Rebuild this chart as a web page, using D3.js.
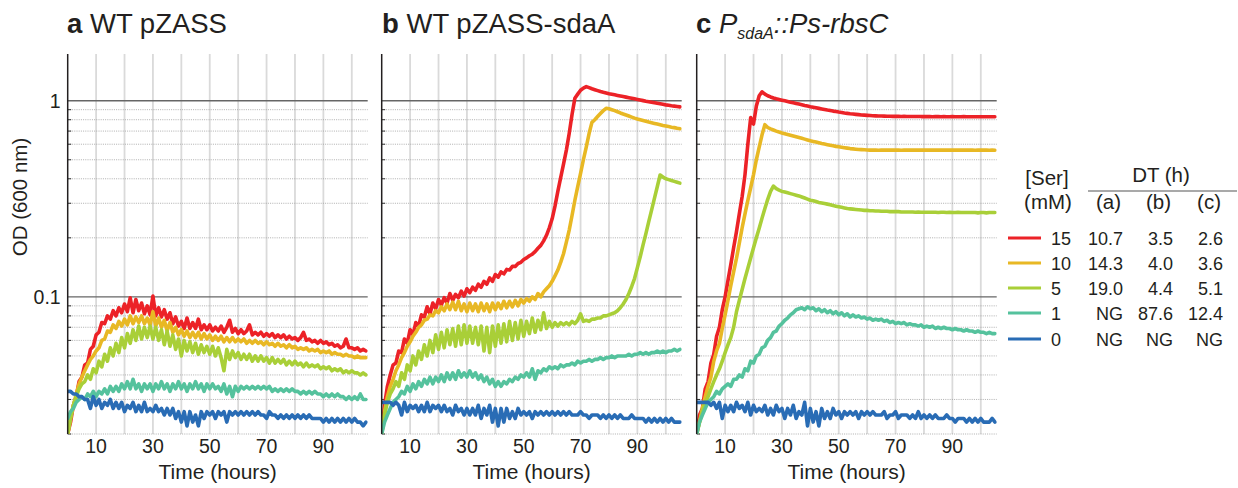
<!DOCTYPE html>
<html><head><meta charset="utf-8">
<script src="https://cdn.jsdelivr.net/npm/d3@7"></script>
<style>body{margin:0;background:#fff;} svg{display:block;} text{font-family:"Liberation Sans",Arial,sans-serif;fill:#231f20;}</style>
</head><body>
<svg id="chart" width="1238" height="488"></svg>
<script>
// ---------------- DATA ----------------
const hours = [0,1,2,3,4,5,6,7,8,9,10,11,12,13,14,15,16,17,18,19,20,21,22,23,24,25,26,27,28,29,30,31,32,33,34,35,36,37,38,39,40,41,42,43,44,45,46,47,48,49,50,51,52,53,54,55,56,57,58,59,60,61,62,63,64,65,66,67,68,69,70,71,72,73,74,75,76,77,78,79,80,81,82,83,84,85,86,87,88,89,90,91,92,93,94,95,96,97,98,99,100,101,102,103,104,105];
const serLevels = ["15","10","5","1","0"];
const seriesColors = ["#ec2227","#e8b824","#a9cf38","#55c29d","#296cb5"];

// panel a: WT pZASS
const a15 = [0.020,0.023,0.028,0.031,0.037,0.039,0.045,0.046,0.054,0.056,
0.064,0.066,0.074,0.073,0.080,0.077,0.085,0.080,0.088,0.083,
0.092,0.084,0.099,0.083,0.097,0.085,0.093,0.082,0.090,0.081,
0.101,0.080,0.088,0.079,0.086,0.077,0.083,0.073,0.079,0.071,
0.075,0.069,0.078,0.069,0.074,0.069,0.077,0.068,0.072,0.068,
0.072,0.067,0.070,0.067,0.071,0.066,0.070,0.076,0.066,0.069,
0.065,0.068,0.065,0.067,0.072,0.064,0.066,0.064,0.066,0.063,
0.065,0.063,0.065,0.062,0.064,0.062,0.064,0.061,0.063,0.061,
0.062,0.060,0.062,0.066,0.060,0.061,0.059,0.060,0.058,0.060,
0.058,0.059,0.057,0.058,0.056,0.057,0.055,0.056,0.061,0.055,
0.055,0.054,0.055,0.053,0.054,0.053];
const a10 = [0.020,0.024,0.028,0.032,0.036,0.039,0.042,0.045,0.048,0.050,
0.053,0.055,0.060,0.061,0.067,0.066,0.072,0.069,0.075,0.071,
0.077,0.072,0.080,0.073,0.079,0.074,0.080,0.073,0.078,0.072,
0.084,0.071,0.078,0.070,0.076,0.067,0.074,0.066,0.070,0.064,
0.068,0.063,0.067,0.062,0.066,0.062,0.066,0.061,0.065,0.061,
0.064,0.060,0.063,0.060,0.063,0.059,0.062,0.059,0.062,0.059,
0.061,0.059,0.061,0.058,0.060,0.058,0.060,0.058,0.059,0.057,
0.059,0.057,0.058,0.056,0.058,0.056,0.057,0.055,0.057,0.055,
0.056,0.054,0.055,0.054,0.055,0.053,0.054,0.053,0.054,0.052,
0.053,0.052,0.053,0.051,0.052,0.051,0.051,0.050,0.051,0.050,
0.050,0.049,0.050,0.049,0.049,0.049];
const a5 = [0.020,0.024,0.028,0.031,0.034,0.036,0.037,0.040,0.038,0.043,
0.041,0.047,0.044,0.051,0.047,0.055,0.050,0.058,0.052,0.062,
0.055,0.065,0.058,0.068,0.060,0.071,0.061,0.070,0.062,0.071,
0.061,0.070,0.060,0.068,0.057,0.067,0.056,0.064,0.054,0.061,
0.050,0.060,0.053,0.059,0.052,0.058,0.051,0.057,0.052,0.056,
0.051,0.056,0.050,0.055,0.049,0.042,0.054,0.048,0.053,0.049,
0.052,0.048,0.051,0.048,0.051,0.047,0.050,0.047,0.050,0.047,
0.049,0.046,0.049,0.046,0.048,0.046,0.048,0.045,0.047,0.045,
0.047,0.045,0.046,0.044,0.046,0.044,0.045,0.044,0.045,0.043,
0.044,0.043,0.044,0.042,0.043,0.042,0.043,0.041,0.042,0.041,
0.042,0.041,0.041,0.040,0.041,0.040];
const a1 = [0.024,0.026,0.027,0.029,0.030,0.031,0.030,0.032,0.031,0.033,
0.031,0.033,0.032,0.034,0.032,0.035,0.033,0.035,0.033,0.036,
0.034,0.037,0.034,0.038,0.034,0.036,0.033,0.036,0.034,0.036,
0.033,0.036,0.034,0.037,0.034,0.036,0.033,0.036,0.034,0.037,
0.034,0.036,0.033,0.036,0.034,0.037,0.034,0.036,0.033,0.036,
0.034,0.036,0.034,0.035,0.033,0.036,0.032,0.035,0.031,0.035,
0.033,0.035,0.034,0.035,0.034,0.035,0.034,0.035,0.034,0.035,
0.034,0.035,0.033,0.034,0.033,0.034,0.033,0.034,0.033,0.034,
0.033,0.033,0.032,0.033,0.032,0.033,0.032,0.033,0.032,0.032,
0.031,0.032,0.031,0.032,0.031,0.032,0.031,0.031,0.030,0.031,
0.030,0.031,0.030,0.032,0.030,0.030];
const a0 = [0.033,0.033,0.032,0.032,0.031,0.031,0.030,0.030,0.027,0.031,
0.028,0.030,0.027,0.029,0.028,0.030,0.027,0.029,0.027,0.029,
0.026,0.028,0.027,0.029,0.026,0.028,0.026,0.029,0.026,0.027,
0.026,0.028,0.026,0.027,0.025,0.027,0.025,0.027,0.024,0.026,
0.023,0.026,0.022,0.026,0.023,0.025,0.022,0.026,0.024,0.026,
0.025,0.026,0.024,0.026,0.025,0.026,0.023,0.026,0.025,0.026,
0.025,0.026,0.025,0.026,0.025,0.026,0.025,0.026,0.025,0.025,
0.024,0.026,0.025,0.025,0.024,0.025,0.024,0.025,0.024,0.025,
0.024,0.025,0.024,0.025,0.024,0.025,0.024,0.024,0.024,0.024,
0.023,0.024,0.023,0.024,0.023,0.024,0.023,0.024,0.023,0.024,
0.023,0.024,0.023,0.023,0.022,0.023];

// panel b: WT pZASS-sdaA
const b15 = [0.020,0.028,0.035,0.040,0.045,0.046,0.053,0.052,0.061,0.058,
0.068,0.064,0.074,0.071,0.081,0.079,0.089,0.082,0.093,0.087,
0.097,0.091,0.099,0.093,0.104,0.096,0.103,0.099,0.107,0.101,
0.110,0.105,0.112,0.108,0.116,0.112,0.120,0.116,0.125,0.120,
0.130,0.126,0.134,0.131,0.138,0.137,0.143,0.143,0.148,0.150,
0.155,0.158,0.162,0.165,0.170,0.177,0.183,0.193,0.206,0.225,
0.250,0.290,0.345,0.405,0.475,0.560,0.680,0.850,1.030,1.080,
1.130,1.160,1.180,1.165,1.150,1.138,1.125,1.113,1.103,1.094,
1.085,1.078,1.071,1.064,1.057,1.050,1.043,1.036,1.029,1.022,
1.015,1.008,1.001,0.994,0.988,0.982,0.976,0.970,0.964,0.958,
0.952,0.947,0.942,0.938,0.934,0.930];
const b10 = [0.020,0.026,0.031,0.035,0.038,0.042,0.045,0.049,0.052,0.056,
0.059,0.063,0.066,0.070,0.072,0.076,0.077,0.081,0.080,0.085,
0.083,0.089,0.085,0.092,0.086,0.094,0.086,0.095,0.085,0.092,
0.084,0.093,0.085,0.092,0.084,0.093,0.085,0.092,0.084,0.093,
0.086,0.093,0.087,0.095,0.088,0.095,0.089,0.096,0.090,0.097,
0.093,0.098,0.095,0.100,0.097,0.104,0.100,0.106,0.110,0.114,
0.120,0.128,0.137,0.150,0.166,0.190,0.219,0.260,0.311,0.365,
0.426,0.500,0.580,0.680,0.775,0.800,0.830,0.860,0.890,0.915,
0.910,0.900,0.890,0.878,0.866,0.855,0.845,0.835,0.825,0.815,
0.806,0.799,0.792,0.785,0.778,0.772,0.766,0.760,0.754,0.748,
0.743,0.738,0.733,0.729,0.724,0.720];
const b5 = [0.020,0.025,0.029,0.032,0.034,0.037,0.035,0.041,0.038,0.045,
0.042,0.050,0.045,0.053,0.048,0.057,0.050,0.060,0.052,0.064,
0.054,0.066,0.055,0.068,0.057,0.069,0.056,0.071,0.057,0.072,
0.058,0.071,0.058,0.070,0.057,0.071,0.053,0.070,0.052,0.071,
0.056,0.072,0.058,0.073,0.059,0.075,0.060,0.074,0.061,0.076,
0.063,0.075,0.065,0.078,0.066,0.076,0.068,0.083,0.069,0.075,
0.070,0.074,0.071,0.074,0.072,0.074,0.072,0.075,0.073,0.076,
0.082,0.075,0.076,0.075,0.077,0.077,0.078,0.078,0.080,0.080,
0.081,0.082,0.083,0.085,0.088,0.092,0.097,0.104,0.113,0.124,
0.141,0.160,0.184,0.210,0.242,0.277,0.318,0.364,0.418,0.408,
0.400,0.396,0.392,0.388,0.384,0.380];
const b1 = [0.020,0.023,0.025,0.027,0.029,0.030,0.031,0.033,0.032,0.035,
0.033,0.036,0.034,0.037,0.035,0.038,0.036,0.039,0.036,0.039,
0.037,0.040,0.037,0.041,0.038,0.041,0.038,0.042,0.039,0.041,
0.039,0.042,0.039,0.041,0.038,0.040,0.037,0.039,0.036,0.038,
0.035,0.037,0.035,0.037,0.036,0.038,0.037,0.039,0.038,0.040,
0.039,0.041,0.039,0.043,0.038,0.042,0.041,0.043,0.042,0.044,
0.043,0.044,0.043,0.045,0.044,0.045,0.045,0.046,0.045,0.047,
0.046,0.047,0.047,0.048,0.047,0.048,0.048,0.049,0.048,0.049,
0.049,0.050,0.049,0.050,0.050,0.050,0.050,0.051,0.050,0.051,
0.051,0.052,0.051,0.052,0.051,0.052,0.052,0.053,0.052,0.053,
0.052,0.053,0.053,0.054,0.053,0.054];
const b0 = [0.029,0.029,0.029,0.029,0.028,0.029,0.028,0.025,0.029,0.026,
0.028,0.027,0.028,0.026,0.028,0.026,0.029,0.026,0.028,0.027,
0.028,0.026,0.028,0.026,0.027,0.025,0.028,0.026,0.027,0.025,
0.027,0.025,0.027,0.025,0.028,0.024,0.027,0.025,0.028,0.023,
0.027,0.022,0.027,0.023,0.027,0.024,0.026,0.024,0.027,0.025,
0.026,0.025,0.026,0.024,0.026,0.025,0.026,0.025,0.026,0.025,
0.026,0.025,0.026,0.025,0.026,0.025,0.026,0.025,0.025,0.025,
0.026,0.025,0.025,0.024,0.025,0.025,0.025,0.024,0.025,0.024,
0.025,0.024,0.025,0.024,0.025,0.024,0.024,0.024,0.025,0.024,
0.024,0.024,0.024,0.023,0.024,0.023,0.024,0.023,0.024,0.023,
0.024,0.023,0.024,0.023,0.023,0.023];

// panel c: PsdaA::Ps-rbsC
const c15 = [0.020,0.025,0.027,0.034,0.037,0.046,0.051,0.063,0.070,0.086,
0.100,0.121,0.146,0.178,0.215,0.265,0.325,0.420,0.600,0.820,
0.760,0.940,1.060,1.110,1.080,1.060,1.045,1.032,1.022,1.014,
1.006,0.998,0.990,0.982,0.975,0.968,0.961,0.954,0.946,0.939,
0.932,0.926,0.920,0.914,0.908,0.902,0.896,0.891,0.885,0.880,
0.875,0.871,0.866,0.862,0.858,0.855,0.852,0.849,0.846,0.844,
0.842,0.840,0.838,0.837,0.836,0.835,0.834,0.833,0.833,0.832,
0.832,0.832,0.831,0.832,0.831,0.831,0.831,0.830,0.831,0.830,
0.830,0.830,0.830,0.829,0.830,0.830,0.829,0.830,0.829,0.829,
0.830,0.829,0.829,0.829,0.830,0.829,0.829,0.828,0.829,0.829,
0.829,0.828,0.829,0.829,0.828,0.828];
const c10 = [0.020,0.023,0.027,0.031,0.035,0.039,0.047,0.053,0.058,0.069,
0.081,0.096,0.114,0.134,0.157,0.188,0.225,0.265,0.310,0.360,
0.420,0.500,0.580,0.670,0.755,0.730,0.718,0.709,0.700,0.692,
0.685,0.679,0.673,0.667,0.661,0.655,0.649,0.643,0.637,0.631,
0.625,0.620,0.615,0.610,0.605,0.601,0.597,0.593,0.589,0.585,
0.582,0.579,0.576,0.573,0.570,0.568,0.566,0.564,0.563,0.562,
0.561,0.560,0.560,0.560,0.559,0.560,0.560,0.560,0.561,0.560,
0.560,0.560,0.559,0.560,0.560,0.561,0.560,0.560,0.560,0.560,
0.560,0.561,0.560,0.560,0.560,0.560,0.561,0.560,0.560,0.560,
0.560,0.560,0.561,0.560,0.560,0.560,0.560,0.560,0.559,0.560,
0.560,0.560,0.560,0.559,0.560,0.559];
const c5 = [0.020,0.023,0.026,0.029,0.031,0.034,0.037,0.040,0.043,0.047,
0.052,0.057,0.062,0.070,0.084,0.096,0.109,0.124,0.140,0.158,
0.178,0.200,0.224,0.252,0.282,0.314,0.345,0.367,0.356,0.350,
0.345,0.342,0.339,0.336,0.333,0.330,0.327,0.323,0.319,0.315,
0.311,0.309,0.306,0.303,0.301,0.299,0.297,0.295,0.292,0.290,
0.288,0.286,0.284,0.282,0.281,0.280,0.279,0.278,0.277,0.276,
0.276,0.275,0.275,0.274,0.274,0.273,0.273,0.273,0.272,0.272,
0.272,0.272,0.271,0.271,0.271,0.271,0.271,0.270,0.271,0.270,
0.270,0.270,0.270,0.270,0.270,0.269,0.270,0.270,0.269,0.270,
0.269,0.269,0.270,0.269,0.269,0.269,0.269,0.269,0.269,0.268,
0.269,0.269,0.268,0.269,0.269,0.269];
const c1 = [0.020,0.023,0.025,0.027,0.029,0.030,0.031,0.033,0.032,0.034,
0.035,0.036,0.035,0.038,0.038,0.040,0.039,0.043,0.042,0.047,
0.046,0.050,0.051,0.055,0.056,0.060,0.062,0.066,0.067,0.071,
0.073,0.076,0.078,0.081,0.083,0.086,0.087,0.088,0.086,0.089,
0.087,0.088,0.085,0.087,0.084,0.086,0.083,0.085,0.082,0.084,
0.081,0.083,0.080,0.082,0.079,0.081,0.079,0.080,0.078,0.079,
0.077,0.078,0.076,0.077,0.076,0.077,0.075,0.076,0.074,0.075,
0.073,0.074,0.073,0.074,0.072,0.073,0.072,0.072,0.071,0.072,
0.070,0.071,0.070,0.071,0.069,0.070,0.069,0.070,0.069,0.069,
0.068,0.069,0.068,0.068,0.067,0.068,0.067,0.067,0.066,0.067,
0.066,0.066,0.065,0.066,0.065,0.065];
const c0 = [0.029,0.029,0.029,0.029,0.029,0.028,0.029,0.027,0.029,0.024,
0.028,0.026,0.028,0.026,0.029,0.027,0.028,0.026,0.029,0.025,
0.028,0.026,0.027,0.026,0.028,0.025,0.027,0.025,0.028,0.026,
0.027,0.024,0.027,0.025,0.028,0.024,0.026,0.025,0.029,0.022,
0.027,0.023,0.026,0.022,0.027,0.024,0.026,0.024,0.027,0.025,
0.026,0.024,0.026,0.025,0.026,0.025,0.026,0.024,0.026,0.025,
0.026,0.025,0.026,0.025,0.025,0.025,0.026,0.024,0.025,0.025,
0.026,0.024,0.025,0.025,0.025,0.024,0.025,0.024,0.026,0.024,
0.025,0.024,0.025,0.024,0.025,0.024,0.024,0.024,0.025,0.024,
0.024,0.023,0.024,0.024,0.024,0.023,0.024,0.023,0.024,0.023,
0.024,0.023,0.023,0.023,0.024,0.023];

const dtA = ["10.7","14.3","19.0","NG","NG"];
const dtB = ["3.5","4.0","4.4","87.6","NG"];
const dtC = ["2.6","3.6","5.1","12.4","NG"];

const xTickValues = [10,30,50,70,90];
const xGridValues = [10,20,30,40,50,60,70,80,90,100];
const yMajorValues = [0.1,1];
const yMajorLabels = ["0.1","1"];
const yMinorValues = [0.02,0.03,0.04,0.05,0.06,0.07,0.08,0.09,0.2,0.3,0.4,0.5,0.6,0.7,0.8,0.9];

// ---------------- LAYOUT ----------------
const svg = d3.select("#chart");
const panelW = 300, plotTop = 54, plotBottom = 434;
const panels = [
  {left: 67.7, series: [a15,a10,a5,a1,a0]},
  {left: 381.7, series: [b15,b10,b5,b1,b0]},
  {left: 696.7, series: [c15,c10,c5,c1,c0]}
];
const y = d3.scaleLog().domain([0.02, 1.73]).range([plotBottom, plotTop]);

const defs = svg.append("defs");

panels.forEach((p, pi) => {
  const x = d3.scaleLinear().domain([0, 105.6]).range([p.left, p.left + panelW]);
  const g = svg.append("g");
  g.selectAll(".vg").data(xGridValues).join("line")
    .attr("x1", d => x(d)).attr("x2", d => x(d)).attr("y1", plotTop).attr("y2", plotBottom)
    .attr("stroke", "#dadada").attr("stroke-width", 1.8);
  g.selectAll(".mg").data(yMinorValues).join("line")
    .attr("x1", p.left).attr("x2", p.left + panelW).attr("y1", d => y(d)).attr("y2", d => y(d))
    .attr("stroke", "#9a9a9a").attr("stroke-width", 0.8).attr("stroke-dasharray", "1,1.2");
  g.selectAll(".mt").data(yMinorValues).join("line")
    .attr("x1", p.left).attr("x2", p.left + 3.5).attr("y1", d => y(d)).attr("y2", d => y(d))
    .attr("stroke", "#333").attr("stroke-width", 1);
  g.selectAll(".Mg").data(yMajorValues).join("line")
    .attr("x1", p.left).attr("x2", p.left + panelW).attr("y1", d => y(d)).attr("y2", d => y(d))
    .attr("stroke", "#666").attr("stroke-width", 1.4);

  const cid = "clip" + pi;
  defs.append("clipPath").attr("id", cid).append("rect")
    .attr("x", p.left).attr("y", plotTop - 5).attr("width", panelW).attr("height", plotBottom - plotTop + 5);

  const line = d3.line().x((d, i) => x(hours[i])).y(d => y(d));
  const lg = g.append("g").attr("clip-path", `url(#${cid})`);
  p.series.forEach((s, si) => {
    lg.append("path").datum(s).attr("d", line)
      .attr("fill", "none").attr("stroke", seriesColors[si]).attr("stroke-width", 3.6)
      .attr("stroke-linejoin", "round").attr("stroke-linecap", "round");
  });

  g.append("line").attr("x1", p.left).attr("x2", p.left).attr("y1", plotTop).attr("y2", plotBottom)
    .attr("stroke", "#231f20").attr("stroke-width", 1.5);

  g.selectAll(".xt").data(xTickValues).join("text")
    .attr("x", d => x(d)).attr("y", 453).attr("text-anchor", "middle")
    .attr("font-size", 19.5).text(d => d);
  g.append("text").attr("x", p.left + panelW / 2).attr("y", 479).attr("text-anchor", "middle")
    .attr("font-size", 21).text("Time (hours)");

  if (pi === 0) {
    g.selectAll(".yt").data(yMajorValues).join("text")
      .attr("x", p.left - 7).attr("y", d => y(d) + 7).attr("text-anchor", "end")
      .attr("font-size", 19.5).text((d, i) => yMajorLabels[i]);
  }
});

svg.append("text").attr("transform", "translate(27,197) rotate(-90)")
  .attr("text-anchor", "middle").attr("font-size", 20.5).text("OD (600 nm)");

const t1 = svg.append("text").attr("x", 67).attr("y", 33).attr("font-size", 27.5);
t1.append("tspan").attr("font-weight", "bold").text("a");
t1.append("tspan").text(" WT pZASS");
const t2 = svg.append("text").attr("x", 382).attr("y", 33).attr("font-size", 27.5);
t2.append("tspan").attr("font-weight", "bold").text("b");
t2.append("tspan").text(" WT pZASS-sdaA");
const t3 = svg.append("text").attr("x", 696).attr("y", 33).attr("font-size", 27.5);
t3.append("tspan").attr("font-weight", "bold").text("c ");
t3.append("tspan").attr("font-style", "italic").text("P");
t3.append("tspan").attr("font-style", "italic").attr("font-size", 16).attr("dy", 6).text("sdaA");
t3.append("tspan").attr("font-style", "italic").attr("dy", -6).text("::Ps-rbsC");

const L = svg.append("g");
L.append("text").attr("x", 1047).attr("y", 185).attr("text-anchor", "middle").attr("font-size", 20.5).text("[Ser]");
L.append("text").attr("x", 1048).attr("y", 209).attr("text-anchor", "middle").attr("font-size", 20.5).text("(mM)");
L.append("text").attr("x", 1161).attr("y", 182).attr("text-anchor", "middle").attr("font-size", 20.5).text("DT (h)");
L.append("line").attr("x1", 1088).attr("x2", 1237).attr("y1", 191).attr("y2", 191).attr("stroke", "#555").attr("stroke-width", 1.2);
const colHead = ["(a)","(b)","(c)"];
const colRight = [1123, 1173, 1223];
colHead.forEach((h, i) => {
  L.append("text").attr("x", colRight[i] - 2).attr("y", 209).attr("text-anchor", "end").attr("font-size", 20.5).text(h);
});
const rowY = [238, 263, 288, 313, 339];
serLevels.forEach((lv, i) => {
  L.append("line").attr("x1", 1008).attr("x2", 1041).attr("y1", rowY[i]).attr("y2", rowY[i])
    .attr("stroke", seriesColors[i]).attr("stroke-width", 3.2);
  L.append("text").attr("x", 1051).attr("y", rowY[i] + 6.5).attr("font-size", 18).text(lv);
  [dtA, dtB, dtC].forEach((col, j) => {
    L.append("text").attr("x", colRight[j]).attr("y", rowY[i] + 6.5).attr("text-anchor", "end")
      .attr("font-size", 18).text(col[i]);
  });
});
</script>
</body></html>
